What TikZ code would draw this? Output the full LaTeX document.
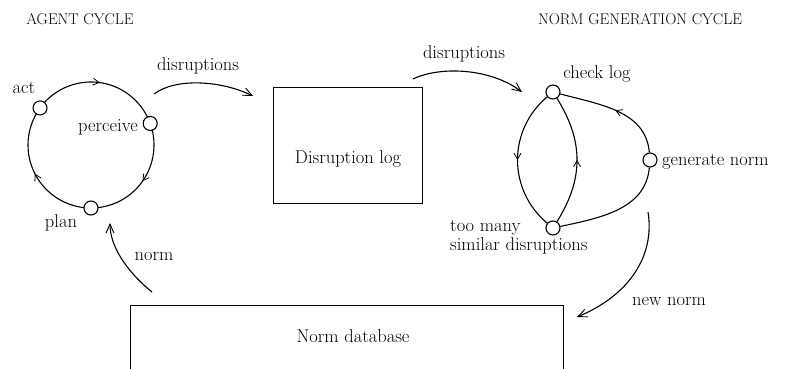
\documentclass[tikz,border=0pt]{standalone}
\usepackage{fontspec}
\usetikzlibrary{arrows.meta,decorations.markings,backgrounds,calc}
\begin{document}
\begin{tikzpicture}[x=1pt,y=1pt,
  txt/.style={font=\fontsize{18.5}{21}\selectfont, inner sep=0pt, anchor=base},
  head/.style={font=\fontsize{15.5}{18}\selectfont, inner sep=0pt, anchor=base},
  dotnode/.style={circle, draw, fill=white, line width=1.1pt, minimum size=14pt, inner sep=0pt},
  cyc/.style={line width=1.1pt},
  midarrow/.style={decoration={markings, mark=at position 0.5 with {\arrow{Straight Barb[length=6pt,width=7pt,line width=0.8pt]}}}, postaction=decorate},
  flow/.style={line width=1.1pt, -{Straight Barb[length=9pt,width=8pt,line width=0.9pt]}},
  boxstyle/.style={draw, line width=1.3pt}
]
\useasboundingbox (0,0) rectangle (785,368);

% headings
\node[head] (h1) at (80,344) {AGENT CYCLE};
\node[head] (h2) at (640,344) {NORM GENERATION CYCLE};

% agent cycle
\coordinate (c) at (91,223);
\node[dotnode] (act) at ($(c)+(144:63)$) {};
\node[dotnode] (perceive) at ($(c)+(20:63)$) {};
\node[dotnode] (plan) at ($(c)+(270:63)$) {};
\begin{scope}[on background layer]
  \draw[cyc,midarrow] (act.center) arc[start angle=144,end angle=20,radius=63];
  \draw[cyc,midarrow] (perceive.center) arc[start angle=20,end angle=-90,radius=63];
  \draw[cyc,midarrow] (plan.center) arc[start angle=-90,end angle=-216,radius=63];
\end{scope}
\node[txt] (lact) at (24,275) {act};
\node[txt, anchor=base east] (lperc) at (138,237) {perceive};
\node[txt] (lplan) at (61,141) {plan};

% disruption log
\node[boxstyle, minimum width=149pt, minimum height=116pt, anchor=north west] (dlog) at (273,281) {};
\node[txt] (ldlog) at (348,205) {Disruption log};

% disruptions arrows
\coordinate (d1s) at (154,274);
\coordinate (d1e) at (253,272);
\draw[flow] (d1s) .. controls (175,290) and (220,288) .. (d1e);
\node[txt] (ld1) at (198,298) {disruptions};
\coordinate (d2s) at (413,289);
\coordinate (d2e) at (522,276);
\draw[flow] (d2s) .. controls (440,302) and (490,300) .. (d2e);
\node[txt] (ld2) at (464,310) {disruptions};

% norm generation cycle
\node[dotnode] (chk) at (553,276) {};
\node[dotnode] (tm) at (553,140) {};
\node[dotnode] (gen) at (650,208) {};
\draw[cyc,midarrow] (chk) to[out=220,in=140,looseness=1.05] (tm);
\draw[cyc,midarrow] (tm) to[out=58,in=-58,looseness=1.05] (chk);
\draw[cyc,midarrow] (gen) to[out=95,in=-15] (chk);
\draw[cyc] (tm) to[out=12,in=265] (gen);
\node[txt] (lchk) at (597,290) {check log};
\node[txt, anchor=base west] (lgen) at (662,203) {generate norm};
\node[txt, anchor=base west] (ltm1) at (450,137) {too many};
\node[txt, anchor=base west] (ltm2) at (450,118) {similar disruptions};

% norm database
\node[boxstyle, minimum width=433pt, minimum height=64pt, anchor=north west] (ndb) at (130,63) {};
\node[txt] (lndb) at (353,26) {Norm database};

% norm arrows
\coordinate (ns) at (152,76);
\coordinate (ne) at (110,145);
\draw[flow] (ns) .. controls (125,98) and (110,123) .. (ne);
\node[txt] (lnorm) at (154,108) {norm};
\coordinate (nns) at (648,156);
\coordinate (nne) at (577,51);
\draw[flow] (nns) .. controls (655,113) and (630,73) .. (nne);
\node[txt, anchor=base west] (lnn) at (632,63) {new norm};
\end{tikzpicture}
\end{document}
